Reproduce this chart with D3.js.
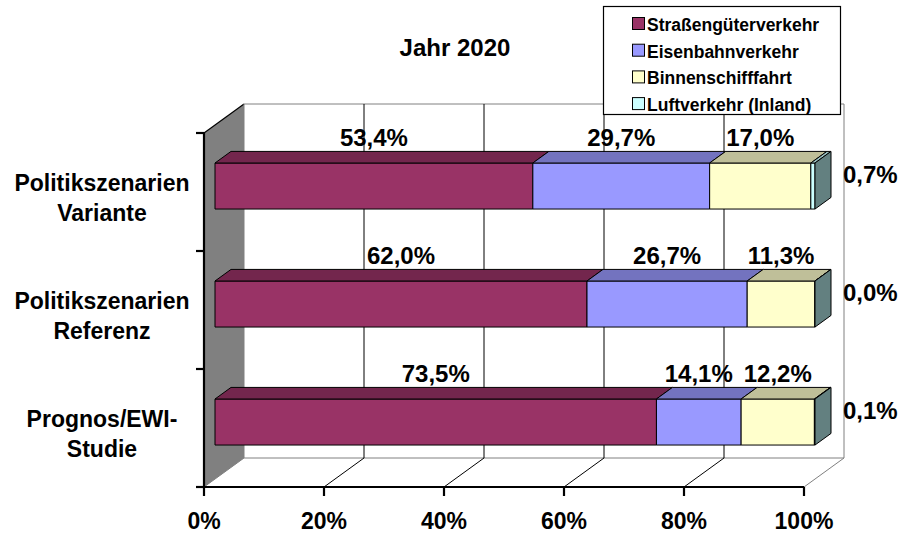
<!DOCTYPE html>
<html>
<head>
<meta charset="utf-8">
<script src="https://cdn.jsdelivr.net/npm/d3@7"></script>
<style>
  html, body { margin: 0; padding: 0; background: #fff; }
  svg { display: block; font-family: "Liberation Sans", Arial, sans-serif; font-weight: bold; }
</style>
</head>
<body>
<svg id="chart" width="900" height="536"></svg>
<script>
// Modal split of freight transport, 2020 scenarios (shares in %)
const categories = [
  ["Politikszenarien", "Variante"],
  ["Politikszenarien", "Referenz"],
  ["Prognos/EWI-", "Studie"]
];
const seriesNames = ["Straßengüterverkehr", "Eisenbahnverkehr", "Binnenschifffahrt", "Luftverkehr (Inland)"];
const strasse   = [53.4, 62.0, 73.5];
const eisenbahn = [29.7, 26.7, 14.1];
const binnen    = [17.0, 11.3, 12.2];
const luft      = [0.7, 0.0, 0.1];
const tickValues = [0, 0.2, 0.4, 0.6, 0.8, 1.0];
const title = "Jahr 2020";

const frontColors = ["#993366", "#9999FF", "#FFFFCC", "#CCFFFF"];
const topColors   = ["#73264D", "#7373BF", "#BFBF99", "#99BFBF"];
const sideColor   = "#638080";

const svg = d3.select("#chart");

// 3D frame: front plane and depth offset
const X0 = 204, X1 = 804, YT = 133, YB = 487;
const DX = 40, DY = 29;
const zFront = 0.275, zBack = 0.675;

const x = d3.scaleLinear().domain([0, 1]).range([X0, X1]);
const keys = categories.map(c => c.join(" "));
const y = d3.scaleBand().domain(keys).range([YT + 2, YB + 2]).paddingInner(0.61).paddingOuter(0.305);
const yTicks = d3.scaleBand().domain(keys).range([YT, YB]);

const P = (v, yy, z) => [x(v) + z * DX, yy - z * DY];
const poly = pts => "M" + pts.map(p => p.join(",")).join("L") + "Z";

const rows = keys.map((k, i) => ({
  key: k, label: categories[i],
  s0: strasse[i], s1: eisenbahn[i], s2: binnen[i], s3: luft[i]
}));
const stack = d3.stack().keys(["s0", "s1", "s2", "s3"]).offset(d3.stackOffsetExpand);
const layers = stack(rows);

// Left wall
svg.append("path")
  .attr("d", poly([P(0, YT, 0), P(0, YT, 1), P(0, YB, 1), P(0, YB, 0)]))
  .attr("fill", "#808080").attr("stroke", "none");
svg.append("line")
  .attr("x1", P(0, YT, 0)[0]).attr("y1", P(0, YT, 0)[1])
  .attr("x2", P(0, YT, 1)[0]).attr("y2", P(0, YT, 1)[1])
  .attr("stroke", "#000").attr("stroke-width", 1.2);

// Back wall edges and gridlines
const g = svg.append("g");
g.append("line")
  .attr("x1", P(0, YT, 1)[0]).attr("y1", P(0, YT, 1)[1])
  .attr("x2", P(1, YT, 1)[0]).attr("y2", P(1, YT, 1)[1])
  .attr("stroke", "#808080");
g.append("line")
  .attr("x1", P(0, YB, 1)[0]).attr("y1", P(0, YB, 1)[1])
  .attr("x2", P(1, YB, 1)[0]).attr("y2", P(1, YB, 1)[1])
  .attr("stroke", "#808080");
tickValues.forEach(t => {
  const edge = (t === 0 || t === 1);
  g.append("line")
    .attr("x1", P(t, YT, 1)[0]).attr("y1", P(t, YT, 1)[1])
    .attr("x2", P(t, YB, 1)[0]).attr("y2", P(t, YB, 1)[1])
    .attr("stroke", edge ? "#808080" : "#000");
  g.append("line")
    .attr("x1", P(t, YB, 1)[0]).attr("y1", P(t, YB, 1)[1])
    .attr("x2", P(t, YB, 0)[0]).attr("y2", P(t, YB, 0)[1])
    .attr("stroke", edge ? "#808080" : "#000");
});

// Bars
rows.forEach((r, i) => {
  const top = y(r.key), bot = top + y.bandwidth();
  const bg = svg.append("g");
  layers.forEach((layer, j) => {
    const [a, b] = layer[i];
    bg.append("path")
      .attr("d", poly([P(a, top, zFront), P(b, top, zFront), P(b, bot, zFront), P(a, bot, zFront)]))
      .attr("fill", frontColors[j]).attr("stroke", "#000").attr("stroke-width", 1);
    bg.append("path")
      .attr("d", poly([P(a, top, zFront), P(a, top, zBack), P(b, top, zBack), P(b, top, zFront)]))
      .attr("fill", topColors[j]).attr("stroke", "#000").attr("stroke-width", 1);
  });
  const end = layers[layers.length - 1][i][1];
  bg.append("path")
    .attr("d", poly([P(end, top, zFront), P(end, top, zBack), P(end, bot, zBack), P(end, bot, zFront)]))
    .attr("fill", sideColor).attr("stroke", "#000").attr("stroke-width", 1);
});

// Data labels
const fmt = v => d3.format(".1f")(v).replace(".", ",") + "%";
const seriesVals = [strasse, eisenbahn, binnen, luft];
rows.forEach((r, i) => {
  const top = y(r.key);
  layers.forEach((layer, j) => {
    const [a, b] = layer[i];
    const t = svg.append("text")
      .attr("font-size", 24).attr("fill", "#000")
      .text(fmt(seriesVals[j][i]));
    if (j < 3) {
      const p = P((a + b) / 2, top, zFront);
      t.attr("x", p[0]).attr("y", P(0, top, zBack)[1] - 5).attr("text-anchor", "middle");
    } else {
      t.attr("x", P(1, top, zBack)[0] + 12).attr("y", top + 12).attr("text-anchor", "start");
    }
  });
});

// Front axes
const ax = svg.append("g");
ax.append("line").attr("x1", X0).attr("y1", YT).attr("x2", X0).attr("y2", YB)
  .attr("stroke", "#000").attr("stroke-width", 2.2);
ax.append("line").attr("x1", X0).attr("y1", YB).attr("x2", X1).attr("y2", YB)
  .attr("stroke", "#000").attr("stroke-width", 2.2);
const yTickPos = keys.map(k => yTicks(k)).concat([YB]);
yTickPos.forEach(yy => {
  ax.append("line").attr("x1", X0 - 8).attr("x2", X0).attr("y1", yy).attr("y2", yy)
    .attr("stroke", "#000").attr("stroke-width", 2.2);
});
tickValues.forEach(t => {
  ax.append("line").attr("x1", x(t)).attr("x2", x(t)).attr("y1", YB).attr("y2", YB + 9)
    .attr("stroke", "#000").attr("stroke-width", 2.2);
  ax.append("text").attr("x", x(t)).attr("y", YB + 42)
    .attr("text-anchor", "middle").attr("font-size", 23)
    .text(d3.format(".0%")(t));
});

// Category labels
rows.forEach(r => {
  const c = yTicks(r.key) + yTicks.bandwidth() / 2;
  const t = svg.append("text").attr("text-anchor", "middle").attr("font-size", 23);
  t.append("tspan").attr("x", 102).attr("y", c - 1).text(r.label[0]);
  t.append("tspan").attr("x", 102).attr("y", c + 29).text(r.label[1]);
});

// Title
svg.append("text").attr("x", 455).attr("y", 56).attr("text-anchor", "middle")
  .attr("font-size", 24).text(title);

// Legend
const lg = svg.append("g");
lg.append("rect").attr("x", 603.5).attr("y", 6.5).attr("width", 237).attr("height", 108)
  .attr("fill", "#fff").attr("stroke", "#000").attr("stroke-width", 1.2);
seriesNames.forEach((n, j) => {
  const yy = 25 + j * 26.7;
  lg.append("rect").attr("x", 632.5).attr("y", yy - 7.5).attr("width", 12).attr("height", 12)
    .attr("fill", frontColors[j]).attr("stroke", "#000");
  lg.append("text").attr("x", 647).attr("y", yy + 6).attr("font-size", 17.5).text(n);
});
</script>
</body>
</html>
